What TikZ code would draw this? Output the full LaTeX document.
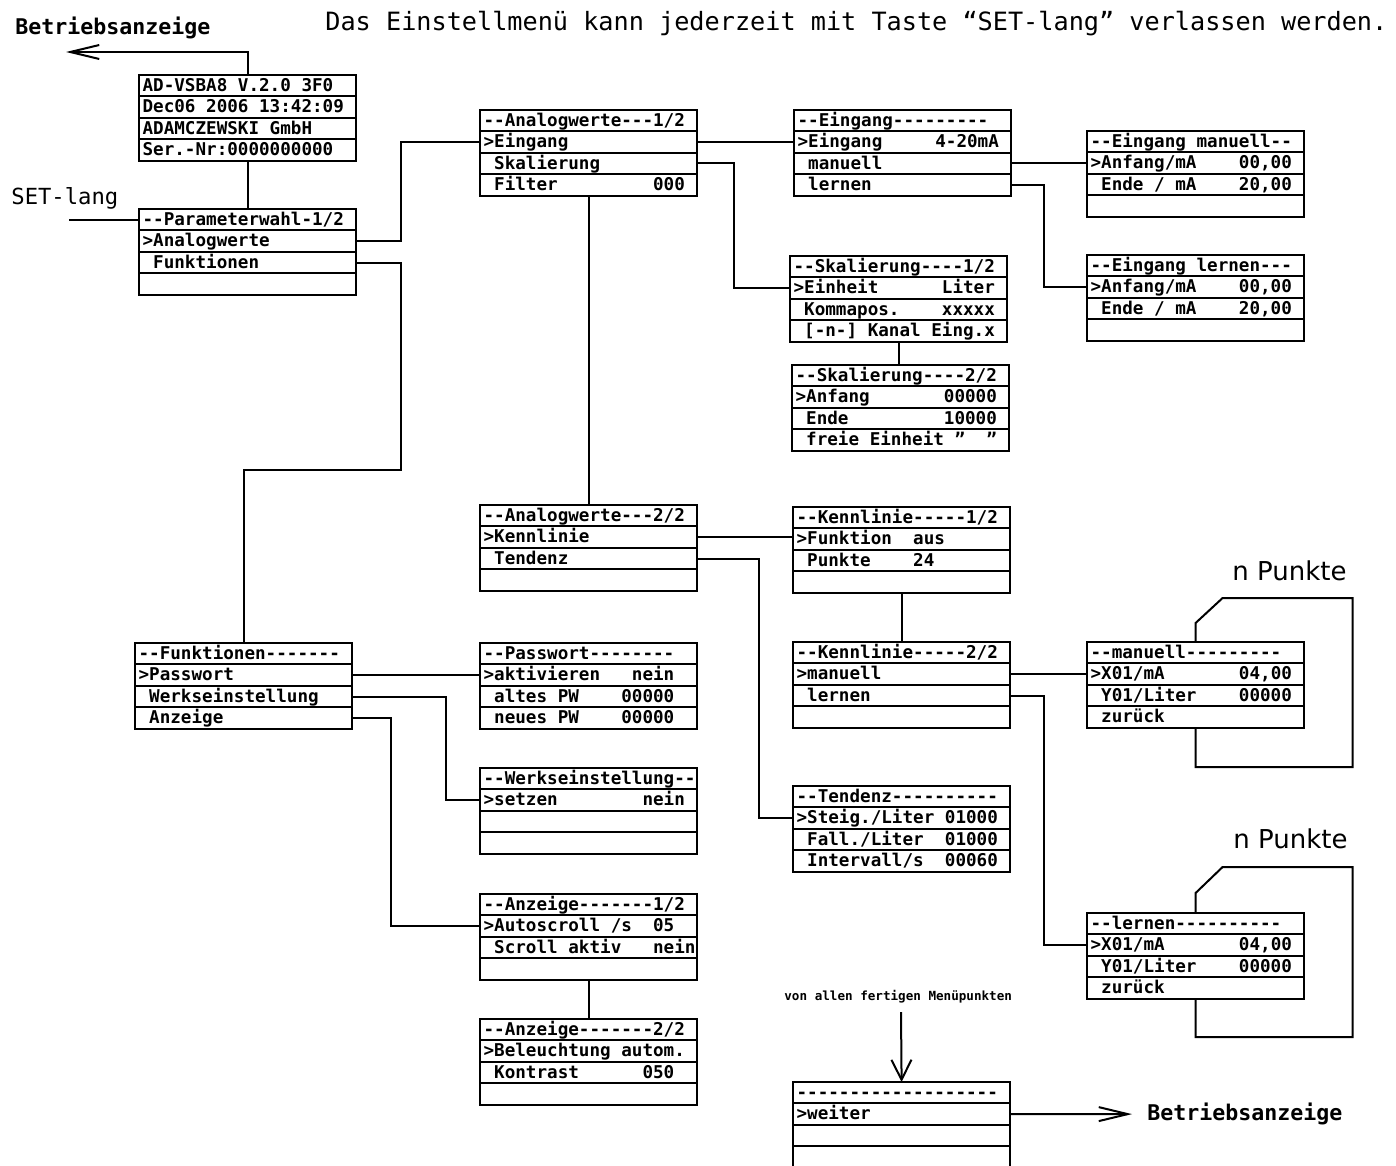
\documentclass[tikz,border=0pt]{standalone}
\usepackage{fontspec}
\usepackage{tikz}
\usetikzlibrary{arrows.meta, positioning}

\newfontfamily\lcdfont{DejaVu Sans Mono}
\newfontfamily\plainfont{DejaVu Sans}
\frenchspacing

% n empty cells of the display grid
\newcommand{\lcdgap}[1]{\hspace*{#1\fontcharwd\font`0}}
% one display with four lines: name, top left corner, lines
\newcommand{\menubox}[6]{%
    \node[lcdRow, anchor=north west] (#1-1) at (#2) {\makebox[105pt][l]{#3}};
    \node[lcdRow, below=0pt of #1-1] (#1-2) {\makebox[105pt][l]{#4}};
    \node[lcdRow, below=0pt of #1-2] (#1-3) {\makebox[105pt][l]{#5}};
    \node[lcdRow, below=0pt of #1-3] (#1-4) {\makebox[105pt][l]{#6}};
}

\begin{document}
\begin{tikzpicture}[
    x=0.5pt, y=-0.5pt,
    lcdRow/.style={
        draw,
        line width=1pt,
        minimum width=108pt,
        minimum height=10.7pt,
        inner xsep=1.8pt,
        inner ysep=0pt,
        outer sep=0pt,
        text height=7.2pt,
        text depth=1.5pt,
        font=\lcdfont\bfseries\fontsize{8.8pt}{10pt}\selectfont
    },
    menuLink/.style={line width=1pt},
    exitArrow/.style={-{Straight Barb[length=14.5pt, width=7pt]}, line width=1pt},
    enterArrow/.style={-{Straight Barb[length=10pt, width=10pt]}, line width=1pt},
    note/.style={inner sep=0pt, anchor=base west}
]
    \useasboundingbox (0,0) rectangle (1396,1166);

    % Headings
    \node[note, font=\lcdfont\fontsize{12.6pt}{14pt}\selectfont] (title) at (325,31)
        {Das Einstellmenü kann jederzeit mit Taste “SET-lang” verlassen werden.};
    \node[note, font=\lcdfont\bfseries\fontsize{10.8pt}{12pt}\selectfont] (betr1) at (15,35) {Betriebsanzeige};
    \node[note, font=\lcdfont\fontsize{11.1pt}{12pt}\selectfont] (setlang) at (11,205) {SET-lang};
    \node[note, font=\plainfont\fontsize{13pt}{15pt}\selectfont] (npkt1) at (1232,580) {n Punkte};
    \node[note, font=\plainfont\fontsize{13pt}{15pt}\selectfont] (npkt2) at (1233,848) {n Punkte};
    \node[note, font=\lcdfont\bfseries\fontsize{6.3pt}{7pt}\selectfont] (von) at (784,1000) {von allen fertigen Menüpunkten};
    \node[note, font=\lcdfont\bfseries\fontsize{10.8pt}{12pt}\selectfont] (betr2) at (1147,1120) {Betriebsanzeige};

    \coordinate (exit1) at (66,52);
    \coordinate (setin) at (69,219.7);
    \coordinate (vonin) at (901,1012);
    \coordinate (exit2) at (1132,1114.1);

    % Start display and main menu
    \menubox{info}{139,75}{AD-VSBA8 V.2.0 3F0}{Dec06 2006 13:42:09}{ADAMCZEWSKI GmbH}{Ser.-Nr:0000000000}
    \menubox{param}{139,209}{--Parameterwahl-1/2}{>Analogwerte}{\lcdgap{1}Funktionen}{}

    % Analogwerte branch
    \menubox{ana1}{480,110}{--Analogwerte---1/2}{>Eingang}{\lcdgap{1}Skalierung}{\lcdgap{1}Filter\lcdgap{9}000}
    \menubox{eing}{794,110}{--Eingang---------}{>Eingang\lcdgap{5}4-20mA}{\lcdgap{1}manuell}{\lcdgap{1}lernen}
    \menubox{eman}{1087,131}{--Eingang manuell--}{>Anfang/mA\lcdgap{4}00,00}{\lcdgap{1}Ende / mA\lcdgap{4}20,00}{}
    \menubox{elern}{1087,255}{--Eingang lernen---}{>Anfang/mA\lcdgap{4}00,00}{\lcdgap{1}Ende / mA\lcdgap{4}20,00}{}
    \menubox{skal1}{790,256}{--Skalierung----1/2}{>Einheit\lcdgap{6}Liter}{\lcdgap{1}Kommapos.\lcdgap{4}xxxxx}{\lcdgap{1}[-n-] Kanal Eing.x}
    \menubox{skal2}{792,365}{--Skalierung----2/2}{>Anfang\lcdgap{7}00000}{\lcdgap{1}Ende\lcdgap{9}10000}{\lcdgap{1}freie Einheit ”\lcdgap{2}”}
    \menubox{ana2}{480,505}{--Analogwerte---2/2}{>Kennlinie}{\lcdgap{1}Tendenz}{}
    \menubox{kenn1}{793,507}{--Kennlinie-----1/2}{>Funktion\lcdgap{2}aus}{\lcdgap{1}Punkte\lcdgap{4}24}{}
    \menubox{kenn2}{793,642}{--Kennlinie-----2/2}{>manuell}{\lcdgap{1}lernen}{}
    \menubox{tend}{793,786}{--Tendenz----------}{>Steig./Liter 01000}{\lcdgap{1}Fall./Liter\lcdgap{2}01000}{\lcdgap{1}Intervall/s\lcdgap{2}00060}
    \menubox{man}{1087,642}{--manuell---------}{>X01/mA\lcdgap{7}04,00}{\lcdgap{1}Y01/Liter\lcdgap{4}00000}{\lcdgap{1}zurück}
    \menubox{lern}{1087,913}{--lernen----------}{>X01/mA\lcdgap{7}04,00}{\lcdgap{1}Y01/Liter\lcdgap{4}00000}{\lcdgap{1}zurück}

    % Funktionen branch
    \menubox{funk}{135,643}{--Funktionen-------}{>Passwort}{\lcdgap{1}Werkseinstellung}{\lcdgap{1}Anzeige}
    \menubox{pass}{480,643}{--Passwort--------}{>aktivieren\lcdgap{3}nein}{\lcdgap{1}altes PW\lcdgap{4}00000}{\lcdgap{1}neues PW\lcdgap{4}00000}
    \menubox{werk}{480,768}{--Werkseinstellung--}{>setzen\lcdgap{8}nein}{}{}
    \menubox{anz1}{480,894}{--Anzeige-------1/2}{>Autoscroll /s\lcdgap{2}05}{\lcdgap{1}Scroll aktiv\lcdgap{3}nein}{}
    \menubox{anz2}{480,1019}{--Anzeige-------2/2}{>Beleuchtung autom.}{\lcdgap{1}Kontrast\lcdgap{6}050}{}
    \menubox{weiter}{793,1082}{-------------------}{>weiter}{}{}

    % Main menu links
    \draw[exitArrow] (info-1.north) |- (exit1);
    \draw[menuLink] (info-4.south) -- (param-1.north);
    \draw[menuLink] (setin) -- (param-1.west);
    \draw[menuLink] (param-2.east) -- ++(45,0) |- (ana1-2.west);
    \draw[menuLink] (param-3.east) -- ++(45,0) -- ++(0,207) -| (funk-1.north);

    % Analogwerte links
    \draw[menuLink] (ana1-2.east) -- (eing-2.west);
    \draw[menuLink] (ana1-3.east) -- ++(37,0) |- (skal1-2.west);
    \draw[menuLink] (ana1-4.south) -- (ana2-1.north);
    \draw[menuLink] (eing-3.east) -- (eing-3.east -| eman-2.west);
    \draw[menuLink] (eing-4.east) -- ++(33,0) |- (elern-2.west);
    \draw[menuLink] (skal1-4.south) -- (skal1-4.south |- skal2-1.north);
    \draw[menuLink] (ana2-2.east) -- (ana2-2.east -| kenn1-2.west);
    \draw[menuLink] (ana2-3.east) -- ++(62,0) |- (tend-2.west);
    \draw[menuLink] (kenn1-4.south) -- (kenn2-1.north);
    \draw[menuLink] (kenn2-2.east) -- (man-2.west);
    \draw[menuLink] (kenn2-3.east) -- ++(34,0) |- (lern-2.west);

    % n Punkte loops
    \draw[menuLink] (man-1.north) -- ++(0,-19) -- ++(27,-25) -- ++(130,0) -- ++(0,169) -| (man-4.south);
    \draw[menuLink] (lern-1.north) -- ++(0,-20) -- ++(27,-26) -- ++(130,0) -- ++(0,170) -| (lern-4.south);

    % Funktionen links
    \draw[menuLink] (funk-2.east) -- (pass-2.west);
    \draw[menuLink] (funk-3.east) -- ++(94,0) |- (werk-2.west);
    \draw[menuLink] (funk-4.east) -- ++(39,0) |- (anz1-2.west);
    \draw[menuLink] (anz1-4.south) -- (anz2-1.north);

    % Leaving the menu
    \draw[enterArrow] (vonin) -- (weiter-1.north);
    \draw[exitArrow] (weiter-2.east) -- (exit2);
\end{tikzpicture}
\end{document}
